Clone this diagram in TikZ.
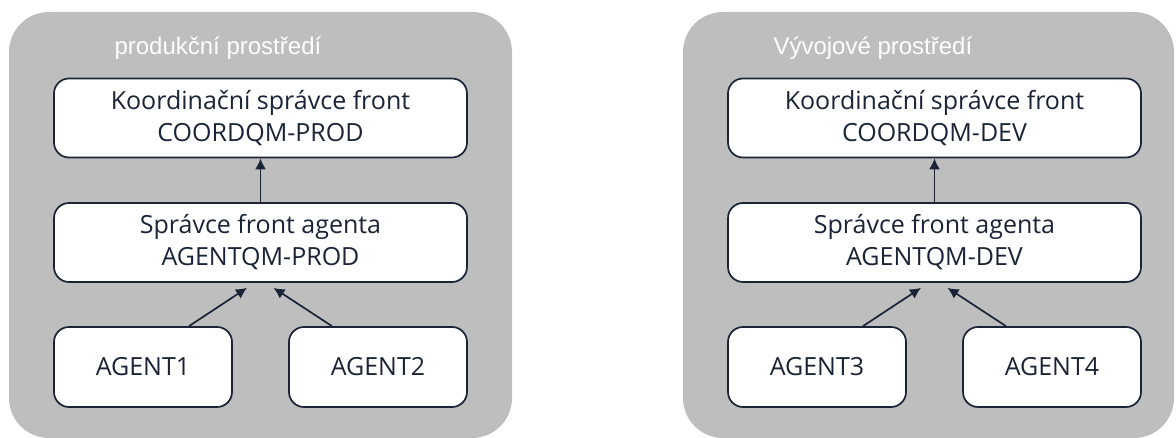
\documentclass[tikz,border=0pt]{standalone}
\usepackage{fontspec}
\setmainfont{Open Sans}
\newfontfamily\titlefont{Liberation Sans}
\usetikzlibrary{calc}
\usetikzlibrary{positioning}
\usetikzlibrary{arrows.meta}

\definecolor{envgray}{HTML}{BEBEBE}
\definecolor{navy}{HTML}{1B2436}

\begin{document}
\begin{tikzpicture}[
        x=1pt, y=-1pt,
        >=Latex,
        every node/.style={font=\fontsize{25}{32}\selectfont, text=navy},
        env/.style={fill=envgray, rounded corners=40pt},
        envtitle/.style={anchor=west, text=white,
            font=\titlefont\fontsize{24}{28}\selectfont},
        qm/.style={
            draw=navy,
            line width=1.7pt,
            fill=white,
            rounded corners=15pt,
            align=center,
            minimum width=413pt,
            minimum height=79pt
        },
        agent/.style={qm, minimum width=178pt, minimum height=80pt},
        link/.style={draw=navy, line width=1.7pt,
            -{Latex[length=11pt,width=11pt]}}
    ]

    \useasboundingbox (0,0) rectangle (1176,438);

    % production
    \fill[env] (9,12) rectangle (512,438);
    \node[envtitle] (PT) at (111,48) {produkční prostředí};

    \node[qm] (CP) at (260.5,118) {Koordinační správce front\\COORDQM-PROD};
    \node[qm] (AP) at (260.5,242.5) {Správce front agenta\\AGENTQM-PROD};
    \node[agent] (A1) at (143,367) {AGENT1};
    \node[agent] (A2) at (378,367) {AGENT2};

    \draw[link] (AP.north) -- (CP.south);
    \draw[link] ($(A1.north)+(46,0)$) -- ($(AP.south)+(-13.5,5)$);
    \draw[link] ($(A2.north)+(-46,0)$) -- ($(AP.south)+(13,5)$);

    % development
    \fill[env] (683,12) rectangle (1174,438);
    \node[envtitle] (DT) at (770,48) {Vývojové prostředí};

    \node[qm] (CD) at (934.5,118) {Koordinační správce front\\COORDQM-DEV};
    \node[qm] (AD) at (934.5,242.5) {Správce front agenta\\AGENTQM-DEV};
    \node[agent] (A3) at (817,367) {AGENT3};
    \node[agent] (A4) at (1052,367) {AGENT4};

    \draw[link] (AD.north) -- (CD.south);
    \draw[link] ($(A3.north)+(46,0)$) -- ($(AD.south)+(-13.5,5)$);
    \draw[link] ($(A4.north)+(-46,0)$) -- ($(AD.south)+(13,5)$);

\end{tikzpicture}
\end{document}
